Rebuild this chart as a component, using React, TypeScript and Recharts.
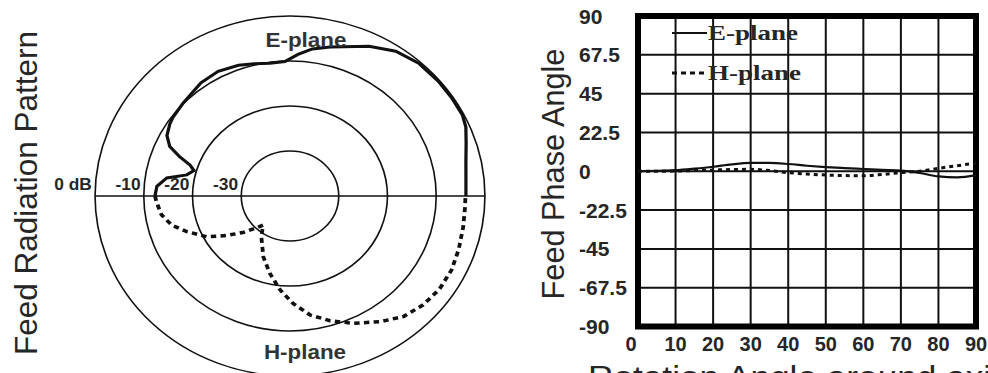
import React from "react";
import {
  CartesianGrid,
  Curve,
  Legend,
  Line,
  LineChart,
  PolarAngleAxis,
  PolarGrid,
  PolarRadiusAxis,
  Radar,
  RadarChart,
  ReferenceArea,
  XAxis,
  YAxis,
} from "recharts";

const INK = "#111";
const TEXT = "#262626";
const SANS = '"Liberation Sans", Arial, Helvetica, sans-serif';
const SERIF = '"Liberation Serif", "Times New Roman", serif';

// radiation pattern: angle in degrees (0 = right, counter-clockwise), level in dB
const E_ANGLE = [0, 6, 12, 18, 23, 27, 33, 40, 48, 56, 64, 76, 82, 87, 92, 98, 104, 110, 118, 126, 137, 144, 147, 152, 156, 159, 161.5, 164, 167.5, 171, 175.5, 180];
const E_DB = [-3.9, -3.7, -3.1, -2.0, -0.8, -0.3, -0.3, -0.3, -0.4, -1.2, -3.0, -5.9, -7.0, -8.5, -10.1, -10.2, -9.7, -9.1, -8.6, -8.9, -9.9, -10.3, -10.6, -11.4, -13.0, -15.8, -18.4, -19.5, -18.3, -14.4, -12.6, -12.3];
const H_ANGLE = [180, 183, 189, 195, 200.5, 208, 214, 220, 225, 229.5, 237, 248, 256.5, 264.5, 271.5, 279, 286.5, 294.5, 303.5, 311, 318.5, 326, 333.5, 341, 349, 356, 360];
const H_DB = [-12.3, -12.6, -13.3, -14.9, -17.4, -20.7, -24.3, -27.4, -29.8, -31.5, -29.2, -25.4, -22.3, -19.0, -16.1, -13.2, -11.1, -8.9, -6.5, -4.5, -3.5, -3.0, -3.0, -3.4, -3.8, -4.0, -4.0];
const RING_TICKS = [-40, -30, -20, -10, 0];
const RING_LABELS = ["", "-30", "-20", "-10", "0 dB"];

// feed phase vs rotation angle
const ROT = [0, 5, 10, 15, 20, 25, 30, 35, 40, 45, 50, 55, 60, 65, 70, 75, 80, 85, 90];
const E_PHASE = [0, 0.2, 0.6, 1.5, 2.6, 4.0, 4.8, 4.8, 4.2, 3.2, 2.4, 1.8, 1.3, 0.8, 0.4, -1.0, -3.0, -3.5, -2.2];
const H_PHASE = [0, 0, 0.1, 0.4, 0.7, 1.0, 1.1, 0.4, -0.8, -1.6, -2.2, -2.5, -2.6, -1.9, -0.8, 0, 1.7, 3.2, 4.8];
const ROT_TICKS = [0, 10, 20, 30, 40, 50, 60, 70, 80, 90];
const PHASE_TICKS = [-90, -67.5, -45, -22.5, 0, 22.5, 45, 67.5, 90];

const polarData = [
  ...E_ANGLE.map((angle, i) => ({ angle, e: E_DB[i] })),
  ...H_ANGLE.map((angle, i) => ({ angle, h: H_DB[i] })),
];

const phaseData = ROT.map((rot, i) => ({ rot, e: E_PHASE[i], h: H_PHASE[i] }));

const LEGEND_STYLE: Record<string, { width: number; dash?: string }> = {
  e: { width: 2.2 },
  h: { width: 3, dash: "5 4" },
};

// radar closes its polygon; each pattern half is an open trace of its own rows
function OpenTrace(props: any) {
  const pts = (props.points ?? []).filter((p: any) => p.value !== undefined && p.value !== null);
  return (
    <Curve
      type="linear"
      points={pts}
      stroke={props.stroke}
      strokeWidth={props.strokeWidth}
      strokeDasharray={props.strokeDasharray}
      fill="none"
    />
  );
}

function RingTick({ x, y, payload }: any) {
  const label = RING_LABELS[RING_TICKS.indexOf(payload.value)] ?? "";
  return (
    <text x={x - 3} y={y - 6} textAnchor="end" fontFamily={SANS} fontWeight="bold" fontSize={16} fill={TEXT}>
      {label}
    </text>
  );
}

function RotTick({ x, y, payload, index }: any) {
  return (
    <text
      x={index === 0 ? x - 1.5 : x}
      y={y + 24}
      textAnchor={index === 0 ? "end" : "middle"}
      fontFamily={SANS}
      fontWeight="bold"
      fontSize={20}
      fill={TEXT}
    >
      {payload.value}
    </text>
  );
}

function PhaseTick({ x, y, payload }: any) {
  return (
    <text x={x - 59} y={y} dy="0.36em" textAnchor="start" fontFamily={SANS} fontWeight="bold" fontSize={21} fill={TEXT}>
      {payload.value}
    </text>
  );
}

function PhaseLegend({ payload }: any) {
  return (
    <div>
      {(payload ?? []).map((entry: any) => {
        const s = LEGEND_STYLE[entry.dataKey] ?? LEGEND_STYLE.e;
        return (
          <div key={entry.value} style={{ display: "flex", alignItems: "center", height: 40 }}>
            <svg width={36} height={10} style={{ display: "block" }}>
              <line x1={0} y1={5} x2={35} y2={5} stroke={INK} strokeWidth={s.width} strokeDasharray={s.dash} />
            </svg>
            <span
              style={{
                display: "inline-block",
                fontFamily: SERIF,
                fontWeight: "bold",
                fontSize: 20,
                lineHeight: 1,
                color: TEXT,
                transform: "scaleX(1.35)",
                transformOrigin: "left center",
              }}
            >
              {entry.value}
            </span>
          </div>
        );
      })}
    </div>
  );
}

function Rotated({ x, y, size, children }: { x: number; y: number; size: number; children: React.ReactNode }) {
  return (
    <div
      style={{
        position: "absolute",
        left: x,
        top: y,
        transform: "translate(-50%, -50%) rotate(-90deg)",
        whiteSpace: "nowrap",
        lineHeight: 1,
        fontFamily: SANS,
        fontSize: size,
        color: TEXT,
      }}
    >
      {children}
    </div>
  );
}

function Caption({ x, top, children }: { x: number; top: number; children: React.ReactNode }) {
  return (
    <div
      style={{
        position: "absolute",
        left: x,
        top,
        transform: "translate(-50%, 0) scaleX(1.12)",
        whiteSpace: "nowrap",
        lineHeight: 1,
        fontFamily: SANS,
        fontWeight: "bold",
        fontSize: 20,
        color: "#333",
      }}
    >
      {children}
    </div>
  );
}

export default function App() {
  return (
    <div style={{ position: "absolute", left: 0, top: 0, width: 988, height: 373, background: "#fff", overflow: "hidden" }}>
      {/* the source figure is stretched sideways, so the rings are ellipses */}
      <div style={{ position: "absolute", left: 0, top: 0, transform: "scaleX(1.083)", transformOrigin: "290px 196px" }}>
        <RadarChart
          width={580}
          height={373}
          data={polarData}
          cx={290}
          cy={196}
          innerRadius={0}
          outerRadius={180}
          startAngle={0}
          endAngle={360}
          margin={{ top: 0, right: 0, bottom: 0, left: 0 }}
        >
          <PolarGrid gridType="circle" polarAngles={[0, 180]} stroke={INK} strokeWidth={1.5} strokeOpacity={1} />
          <PolarAngleAxis dataKey="angle" type="number" domain={[0, 360]} tick={false} tickLine={false} axisLine={false} />
          <PolarRadiusAxis
            angle={180}
            type="number"
            domain={[-40, 0]}
            ticks={RING_TICKS}
            axisLine={false}
            tickLine={false}
            tick={<RingTick />}
          />
          <Radar dataKey="e" name="E-plane" stroke={INK} strokeWidth={3} fill="none" dot={false} shape={OpenTrace} isAnimationActive={false} />
          <Radar dataKey="h" name="H-plane" stroke={INK} strokeWidth={3.5} strokeDasharray="5 4" fill="none" dot={false} shape={OpenTrace} isAnimationActive={false} />
        </RadarChart>
      </div>

      <Rotated x={27} y={192.5} size={31.5}>Feed Radiation Pattern</Rotated>
      <Caption x={306} top={30.4}>E-plane</Caption>
      <Caption x={305} top={342.4}>H-plane</Caption>

      <div style={{ position: "absolute", left: 560, top: 0 }}>
        <LineChart width={428} height={373} data={phaseData} margin={{ top: 16, right: 12, bottom: 0, left: 0 }}>
          <CartesianGrid stroke={INK} strokeWidth={2} strokeOpacity={1} />
          <XAxis
            dataKey="rot"
            type="number"
            domain={[0, 90]}
            ticks={ROT_TICKS}
            interval={0}
            height={46.5}
            axisLine={false}
            tickLine={false}
            tickSize={0}
            tickMargin={0}
            tick={<RotTick />}
          />
          <YAxis
            type="number"
            domain={[-90, 90]}
            ticks={PHASE_TICKS}
            interval={0}
            width={78}
            axisLine={false}
            tickLine={false}
            tickSize={0}
            tickMargin={0}
            tick={<PhaseTick />}
          />
          <ReferenceArea x1={0} x2={90} y1={-90} y2={90} fill="none" fillOpacity={0} stroke="#000" strokeWidth={6} strokeOpacity={1} />
          <Line dataKey="e" name="E-plane" type="monotone" stroke={INK} strokeWidth={2.2} dot={false} isAnimationActive={false} />
          <Line dataKey="h" name="H-plane" type="monotone" stroke={INK} strokeWidth={3} strokeDasharray="4 4" dot={false} isAnimationActive={false} />
          <Legend content={<PhaseLegend />} layout="vertical" align="center" verticalAlign="middle" wrapperStyle={{ left: 112, top: 13, width: "auto" }} />
        </LineChart>
      </div>

      <Rotated x={554} y={173.5} size={30.7}>Feed Phase Angle</Rotated>
      <div
        style={{
          position: "absolute",
          left: 588,
          top: 360.8,
          whiteSpace: "nowrap",
          lineHeight: 1,
          fontFamily: SANS,
          fontSize: 32,
          color: TEXT,
          transform: "scaleX(1.1)",
          transformOrigin: "left top",
        }}
      >
        Rotation Angle around axis
      </div>
    </div>
  );
}
